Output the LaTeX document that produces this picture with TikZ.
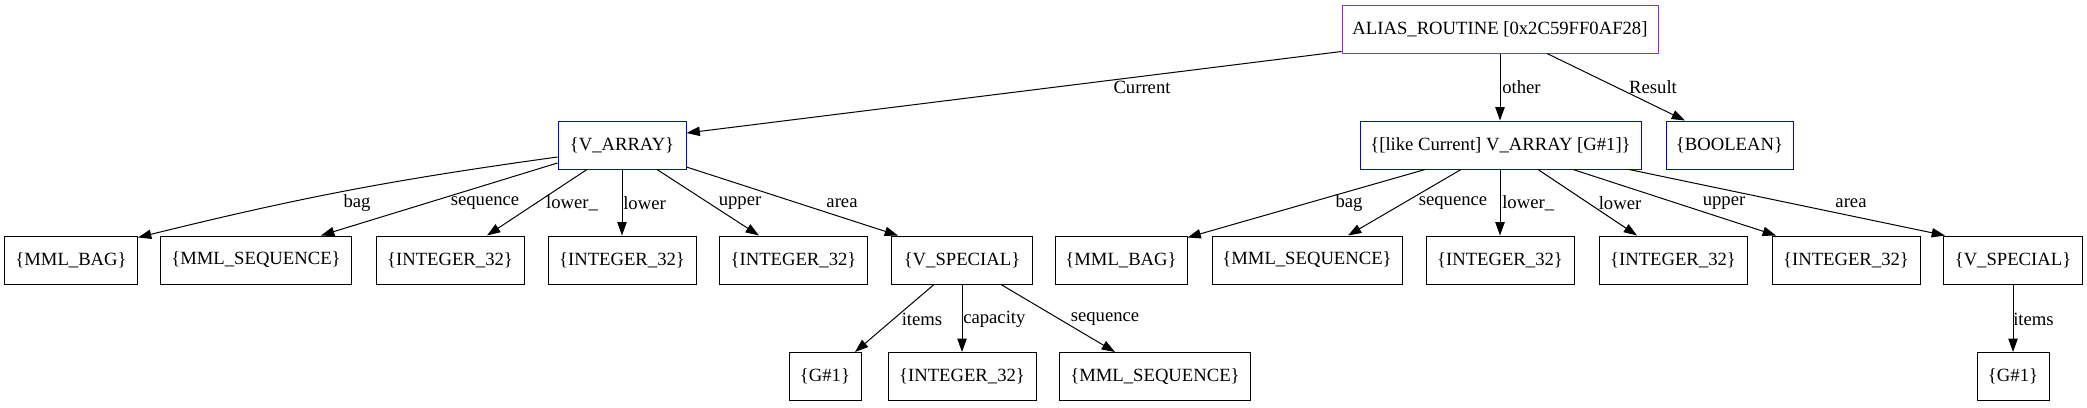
\documentclass[tikz,border=0pt]{standalone}
\usepackage{fontspec}
\setmainfont{Liberation Serif}
\usetikzlibrary{arrows.meta}
\definecolor{gvpurple}{HTML}{A020F0}
\definecolor{gvblue}{HTML}{0000FF}
\tikzset{
  box/.style={draw=black, line width=0.75pt, minimum height=36pt, inner sep=2pt, font=\fontsize{14pt}{16pt}\selectfont},
  rootbox/.style={box, draw=gvpurple},
  bluebox/.style={box, draw=gvblue},
  edge/.style={draw=black, line width=0.75pt, -{Triangle[length=10pt,width=7pt]}},
  lbl/.style={font=\fontsize{14pt}{16pt}\selectfont, inner sep=0pt},
}
\begin{document}
\begin{tikzpicture}[x=0.75pt, y=-0.75pt]
\useasboundingbox (0,0) rectangle (2087,407);
% row 0
\node[rootbox, minimum width=237pt] (root) at (1500,29) {ALIAS\_ROUTINE [0x2C59FF0AF28]};
% row 1
\node[bluebox, minimum width=96pt] (varray) at (622,145) {\{V\_ARRAY\}};
\node[bluebox, minimum width=210.75pt] (like) at (1500.5,145) {\{[like Current] V\_ARRAY [G\#1]\}};
\node[bluebox, minimum width=95.25pt] (bool) at (1729.5,145) {\{BOOLEAN\}};
% row 2
\node[box, minimum width=99.75pt] (bag1) at (71,260) {\{MML\_BAG\}};
\node[box, minimum width=143.25pt] (seq1) at (256,260) {\{MML\_SEQUENCE\}};
\node[box, minimum width=111pt] (int1) at (450,260) {\{INTEGER\_32\}};
\node[box, minimum width=111pt] (int2) at (622,260) {\{INTEGER\_32\}};
\node[box, minimum width=111pt] (int3) at (793.5,260) {\{INTEGER\_32\}};
\node[box, minimum width=105.75pt] (vsp1) at (962,260) {\{V\_SPECIAL\}};
\node[box, minimum width=99pt] (bag2) at (1121,260) {\{MML\_BAG\}};
\node[box, minimum width=142.5pt] (seq2) at (1307,260) {\{MML\_SEQUENCE\}};
\node[box, minimum width=111pt] (int4) at (1500,260) {\{INTEGER\_32\}};
\node[box, minimum width=111pt] (int5) at (1673,260) {\{INTEGER\_32\}};
\node[box, minimum width=111pt] (int6) at (1846,260) {\{INTEGER\_32\}};
\node[box, minimum width=104.25pt] (vsp2) at (2013,260) {\{V\_SPECIAL\}};
% row 3
\node[box, minimum width=54pt] (g1) at (825,376.5) {\{G\#1\}};
\node[box, minimum width=111pt] (int7) at (962,376.5) {\{INTEGER\_32\}};
\node[box, minimum width=143.25pt] (seq3) at (1155,376.5) {\{MML\_SEQUENCE\}};
\node[box, minimum width=54pt] (g2) at (2013,376.5) {\{G\#1\}};
% root edges
\draw[edge] ([yshift=1.5pt]root.south west) -- ([yshift=9pt]varray.east);
\draw[edge] (root.south) -- (root.south |- like.north);
\draw[edge] ([xshift=35.25pt]root.south) -- ([xshift=-33.4pt]bool.north);
% V_ARRAY edges
\draw[edge] ([yshift=-9pt]varray.west) to[bend right=3] ([yshift=-1.5pt]bag1.north east);
\draw[edge] ([yshift=-13.5pt]varray.west) -- ([xshift=48.75pt]seq1.north);
\draw[edge] ([xshift=-26.25pt]varray.south) -- ([xshift=27.75pt]int1.north);
\draw[edge] (varray.south) -- (int2.north);
\draw[edge] ([xshift=26.25pt]varray.south) -- ([xshift=-25.9pt]int3.north);
\draw[edge] ([yshift=-16.5pt]varray.east) -- ([xshift=-48pt]vsp1.north);
% V_SPECIAL 1 edges
\draw[edge] ([xshift=-21pt]vsp1.south) -- ([xshift=22.5pt]g1.north);
\draw[edge] (vsp1.south) -- (int7.north);
\draw[edge] ([xshift=29.25pt]vsp1.south) -- ([xshift=-30pt]seq3.north);
% like-current edges
\draw[edge] ([xshift=-56.6pt]like.south) -- ([yshift=-1.5pt]bag2.north east);
\draw[edge] ([xshift=-29.6pt]like.south) -- ([xshift=30.75pt]seq2.north);
\draw[edge] (like.south -| int4.north) -- (int4.north);
\draw[edge] ([xshift=28.1pt]like.south) -- ([xshift=-27pt]int5.north);
\draw[edge] ([xshift=54.4pt]like.south) -- ([xshift=-52.5pt]int6.north);
\draw[edge] ([xshift=96.4pt]like.south) -- ([xshift=1.5pt]vsp2.north west);
% V_SPECIAL 2 edge
\draw[edge] (vsp2.south) -- (g2.north);
% edge labels
\node[lbl] (lCurrent) at (1142,87) {Current};
\node[lbl, anchor=west] (lOther) at (1502,87) {other};
\node[lbl] (lResult) at (1653,87) {Result};
\node[lbl] (lBag1) at (357,203) {bag};
\node[lbl] (lSeq1) at (485,203) {sequence};
\node[lbl] (lLowu1) at (572,203) {lower\_};
\node[lbl, anchor=west] (lLow1) at (623,203) {lower};
\node[lbl] (lUp1) at (740,203) {upper};
\node[lbl] (lArea1) at (842,203) {area};
\node[lbl] (lItems1) at (922,319) {items};
\node[lbl, anchor=west] (lCap) at (963,319) {capacity};
\node[lbl] (lSeq3) at (1105,319) {sequence};
\node[lbl] (lBag2) at (1349,203) {bag};
\node[lbl] (lSeq2) at (1453,203) {sequence};
\node[lbl, anchor=west] (lLowu2) at (1502,203) {lower\_};
\node[lbl] (lLow2) at (1620,203) {lower};
\node[lbl] (lUp2) at (1724,203) {upper};
\node[lbl] (lArea2) at (1851,203) {area};
\node[lbl, anchor=west] (lItems2) at (2013,319) {items};
\end{tikzpicture}
\end{document}
